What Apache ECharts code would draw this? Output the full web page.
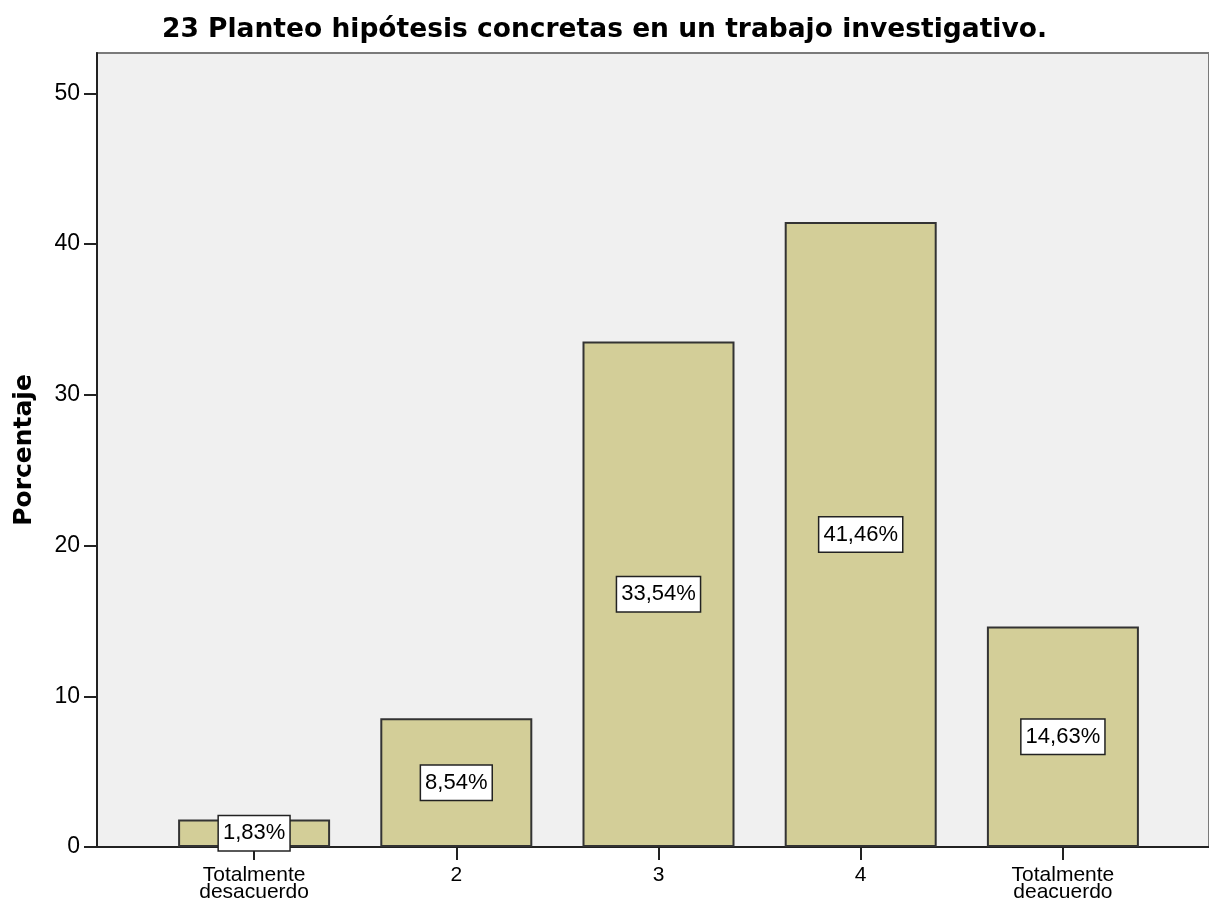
<!DOCTYPE html>
<html>
<head>
<meta charset="utf-8">
<script src="https://cdn.jsdelivr.net/npm/echarts@6/dist/echarts.min.js"></script>
<style>
html,body{margin:0;padding:0;background:#fff;}
#chart{width:1209px;height:905px;}
</style>
</head>
<body>
<div id="chart"></div>
<script>
const titleText = '23 Planteo hipótesis concretas en un trabajo investigativo.';
const categories = ['Totalmente\ndesacuerdo', '2', '3', '4', 'Totalmente\ndeacuerdo'];
const percentages = [1.83, 8.54, 33.54, 41.46, 14.63];
const yTicks = [0, 10, 20, 30, 40, 50];
const yMax = 52.67;

const chart = echarts.init(document.getElementById('chart'), null, {renderer: 'canvas'});
const fmt = v => v.toFixed(2).replace('.', ',') + '%';

chart.setOption({
  animation: false,
  backgroundColor: '#ffffff',
  title: {
    text: titleText,
    left: 'center',
    top: 12,
    textStyle: {fontFamily: 'DejaVu Sans', fontWeight: 'bold', fontSize: 26.5, color: '#000'}
  },
  grid: [
    {left: 97, top: 53, right: -6, bottom: 58, show: true, backgroundColor: '#f0f0f0',
     borderColor: '#7a7a7a', borderWidth: 2},
    {left: 153, top: 53, right: 45, bottom: 58, show: false}
  ],
  xAxis: [
    {type: 'value', gridIndex: 0, min: 0, max: 1,
     axisLine: {show: true, onZero: false, lineStyle: {color: '#222', width: 2}},
     axisTick: {show: false}, axisLabel: {show: false}, splitLine: {show: false}},
    {type: 'category', gridIndex: 1, data: categories,
     axisLine: {show: false},
     axisTick: {show: true, alignWithLabel: true, length: 13, lineStyle: {color: '#222', width: 2}},
     axisLabel: {margin: 20, fontFamily: 'Liberation Sans', fontSize: 21, lineHeight: 17, color: '#000'},
     splitLine: {show: false}}
  ],
  yAxis: [
    {type: 'value', gridIndex: 0, min: 0, max: yMax,
     name: 'Porcentaje', nameLocation: 'middle', nameGap: 60, nameRotate: 90,
     nameTextStyle: {fontFamily: 'DejaVu Sans', fontWeight: 'bold', fontSize: 25, color: '#000'},
     axisLine: {show: true, lineStyle: {color: '#222', width: 2}},
     axisTick: {show: true, length: 13, customValues: yTicks, lineStyle: {color: '#222', width: 2}},
     axisLabel: {margin: 17, customValues: yTicks, fontFamily: 'Liberation Sans', fontSize: 23, color: '#000'},
     splitLine: {show: false}},
    {type: 'value', gridIndex: 1, min: 0, max: yMax, show: false, splitLine: {show: false}}
  ],
  series: [{
    type: 'bar',
    xAxisIndex: 1, yAxisIndex: 1,
    data: percentages,
    barWidth: 152,
    itemStyle: {color: '#d3ce98', borderColor: '#333', borderWidth: 2},
    label: {
      show: true, position: 'inside',
      formatter: p => fmt(p.value),
      fontFamily: 'Liberation Sans',
      fontSize: 22, lineHeight: 25, color: '#000',
      backgroundColor: '#ffffff', borderColor: '#222', borderWidth: 1.5,
      padding: [5, 4, 4, 4]
    }
  }]
});
</script>
</body>
</html>
